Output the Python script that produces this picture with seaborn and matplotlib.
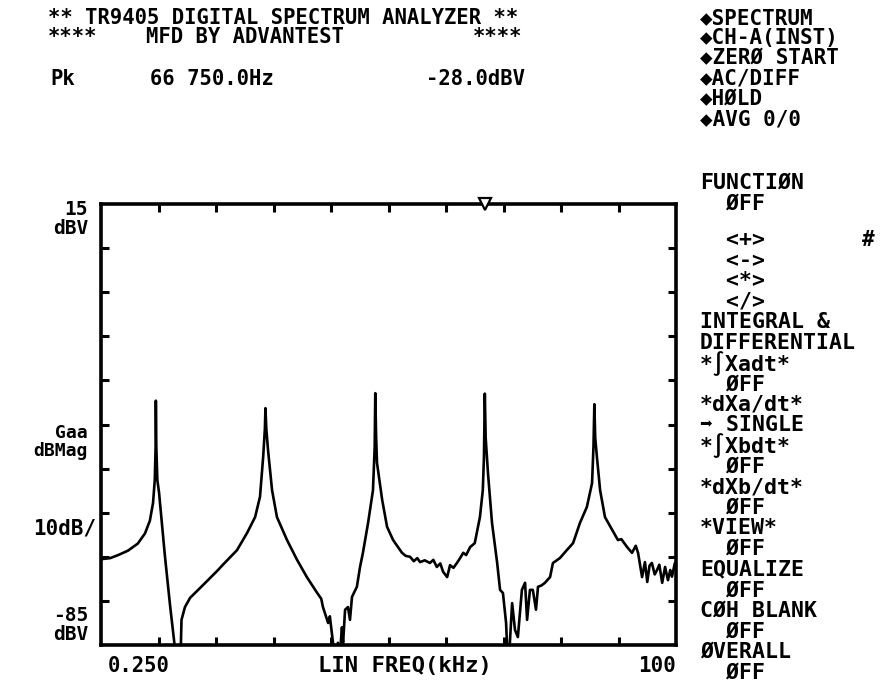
import numpy as np
import pandas as pd
import matplotlib
matplotlib.use("Agg")
import matplotlib.pyplot as plt
import seaborn as sns

# ---- data (kHz, dBV) ----
freq_khz = [0.25, 1.6, 3.0, 4.7, 6.4, 7.65, 8.5, 9.05, 9.35, 9.5, 9.54, 9.62, 9.8, 10.1,
            11.1, 12.0, 12.7, 13.2, 13.9, 14.0, 14.6, 15.5, 16.9, 18.6, 20.35, 21.2,
            23.65, 25.4, 26.8, 27.65, 28.2, 28.5, 28.6, 28.75, 29.05, 29.75, 30.6,
            32.35, 34.1, 35.8, 37.6, 38.3, 38.6, 39.5, 39.8, 40.35, 40.7, 41.2, 41.5,
            41.9, 42.1, 42.45, 42.95, 43.3, 43.65, 44.5, 45.05, 45.55, 46.45, 47.3,
            47.6, 47.7, 47.85, 48.0, 48.9, 49.75, 50.8, 52.35, 53.0, 53.75, 54.4, 55.0,
            55.5, 56.3, 57.2, 57.8, 58.4, 59.0, 59.5, 60.2, 60.7, 61.3, 61.9, 62.4,
            63.0, 63.5, 64.2, 65.0, 65.9, 66.4, 66.6, 66.75, 66.9, 67.3, 68.0, 68.9,
            69.4, 69.9, 70.45, 70.6, 70.9, 71.15, 71.5, 72.0, 72.5, 73.2, 73.75, 74.1,
            74.6, 75.1, 75.65, 76.0, 76.6, 77.2, 78.1, 78.6, 79.8, 81.0, 82.1, 83.3,
            84.5, 85.4, 85.65, 85.8, 85.95, 86.25, 86.8, 87.65, 88.9, 89.9, 90.5, 91.5,
            92.35, 93.0, 93.4, 94.1, 94.6, 95.0, 95.4, 95.8, 96.3, 96.7, 97.1, 97.6,
            98.1, 98.6, 99.0, 99.3, 99.8]
level_dbv = [-65.5, -65.3, -64.6, -63.6, -62.0, -59.7, -56.8, -52.8, -47.6, -40.0, -29.6, -40.0, -47.6, -50.5,
             -64.6, -75.9, -83.9, -90.0, -84.5, -79.3, -76.4, -74.3, -72.5, -70.3, -68.0, -66.8,
             -63.5, -59.6, -56.0, -51.4, -42.4, -36.0, -31.3, -36.0, -40.8, -49.9, -56.0,
             -61.2, -65.7, -69.6, -73.2, -74.5, -76.4, -80.0, -78.5, -84.5, -90.0, -84.5, -88.0,
             -81.0, -84.5, -77.0, -76.4, -79.3, -74.1, -71.8, -67.3, -64.1, -57.3, -49.9,
             -40.0, -27.9, -38.0, -43.7, -52.1, -58.2, -61.2, -64.1, -64.8, -65.0, -66.0, -65.3,
             -66.2, -65.8, -66.4, -65.7, -67.3, -66.5, -68.4, -69.6, -66.9, -67.5, -66.4, -65.4,
             -64.1, -64.6, -62.8, -61.9, -56.0, -49.9, -42.4, -28.0, -38.0, -46.0, -57.3, -66.4,
             -72.5, -73.2, -80.0, -84.5, -90.0, -83.5, -75.5, -81.6, -83.2, -72.5, -70.9, -79.3,
             -72.5, -72.5, -77.0, -71.8, -71.5, -70.9, -69.6, -66.4, -65.3, -63.5, -61.9, -57.3,
             -53.7, -48.3, -40.0, -30.4, -38.0, -42.4, -49.9, -56.0, -58.9, -61.2, -61.0, -62.8,
             -64.1, -62.5, -64.1, -69.6, -66.2, -70.7, -67.0, -66.4, -69.0, -68.0, -66.8, -70.9,
             -67.3, -70.3, -68.0, -69.5, -66.4]

x_ticks = [10, 20, 30, 40, 50, 60, 70, 80, 90]
y_ticks = [5, -5, -15, -25, -35, -45, -55, -65, -75]
x_range = [0, 100]
y_range = [-85, 15]
marker_khz = 66.75

title_line = "** TR9405 DIGITAL SPECTRUM ANALYZER **"
menu_top = ["\u25c6SPECTRUM", "\u25c6CH-A(INST)", "\u25c6ZER\u00d8 START",
            "\u25c6AC/DIFF", "\u25c6H\u00d8LD", "\u25c6AVG 0/0"]
menu_function = ["FUNCTI\u00d8N", "  \u00d8FF"]
menu_side = ["  <+>", "  <->", "  <*>", "  </>", "INTEGRAL &", "DIFFERENTIAL",
             "*\u222bXadt*", "  \u00d8FF", "*dXa/dt*", "\u27a1 SINGLE",
             "*\u222bXbdt*", "  \u00d8FF", "*dXb/dt*", "  \u00d8FF", "*VIEW*", "  \u00d8FF",
             "EQUALIZE", "  \u00d8FF", "C\u00d8H BLANK", "  \u00d8FF", "\u00d8VERALL", "  \u00d8FF"]

df = pd.DataFrame({"freq": freq_khz, "level": level_dbv})

sns.set_style("white")
plt.rcParams["font.family"] = ["DejaVu Sans Mono", "DejaVu Sans"]
plt.rcParams["font.weight"] = "bold"

W, H = 889, 691
fig = plt.figure(figsize=(W / 100, H / 100), dpi=100)
fig.patch.set_facecolor("white")
ax = fig.add_axes([101 / W, 46 / H, 575 / W, 441 / H])
ax.set_facecolor("white")

sns.lineplot(data=df, x="freq", y="level", ax=ax, color="black", linewidth=1.9,
             estimator=None, sort=False)
ax.set_xlim(*x_range)
ax.set_ylim(*y_range)
ax.set_xticks(x_ticks)
ax.set_yticks(y_ticks)
ax.tick_params(direction="in", length=6, width=2.2, color="black",
               top=True, right=True, bottom=True, left=True,
               labelbottom=False, labelleft=False)
ax.set_xlabel("")
ax.set_ylabel("")
for s in ax.spines.values():
    s.set_visible(True)
    s.set_color("black")
    s.set_linewidth(2.6)

# peak marker on the top edge
ax.plot([marker_khz], [y_range[1]], marker="v", markersize=8, markerfacecolor="white",
        markeredgecolor="black", markeredgewidth=1.6, clip_on=False, zorder=5)


def t(x, y, s, size=15, ha="left", va="center", ls=1.2):
    fig.text(x / W, 1 - y / H, s, fontsize=size, ha=ha, va=va, fontweight="bold",
             color="black", family=["DejaVu Sans Mono", "DejaVu Sans"],
             multialignment=ha if ha != "center" else "center", linespacing=ls)


# header
t(48, 18, title_line, size=14.8)
t(48, 37, "****", size=14.8)
t(146, 37, "MFD BY ADVANTEST", size=14.8)
t(522, 37, "****", size=14.8, ha="right")
t(50, 79, "Pk", size=14.8)
t(150, 79, "66 750.0Hz", size=14.8)
t(525, 79, "-28.0dBV", size=14.8, ha="right")

# right-hand menu
menu_top_y = [18, 38, 58, 78.5, 99, 119.5]
for y, s in zip(menu_top_y, menu_top):
    t(700, y, s, size=15)
for i, s in enumerate(menu_function):
    t(700, 183 + i * 20.6, s, size=15.5)
for i, s in enumerate(menu_side):
    t(700, 240 + i * 20.6, s, size=15.5)
t(862, 240, "#", size=15)

# axis annotations (stacked labels as single multi-line texts)
t(88, 219, "15\ndBV", size=14, ha="right", ls=0.95)
t(88, 442, "Gaa\ndBMag", size=13, ha="right", ls=1.0)
t(96, 528, "10dB/", size=15, ha="right")
t(88, 625, "-85\ndBV", size=14, ha="right", ls=0.95)
t(108, 666, "0.250", size=14.8)
t(405, 666, "LIN FREQ(kHz)", size=16, ha="center")
t(676, 666, "100", size=15, ha="right")

fig.savefig("out.png", dpi=100, facecolor="white")
